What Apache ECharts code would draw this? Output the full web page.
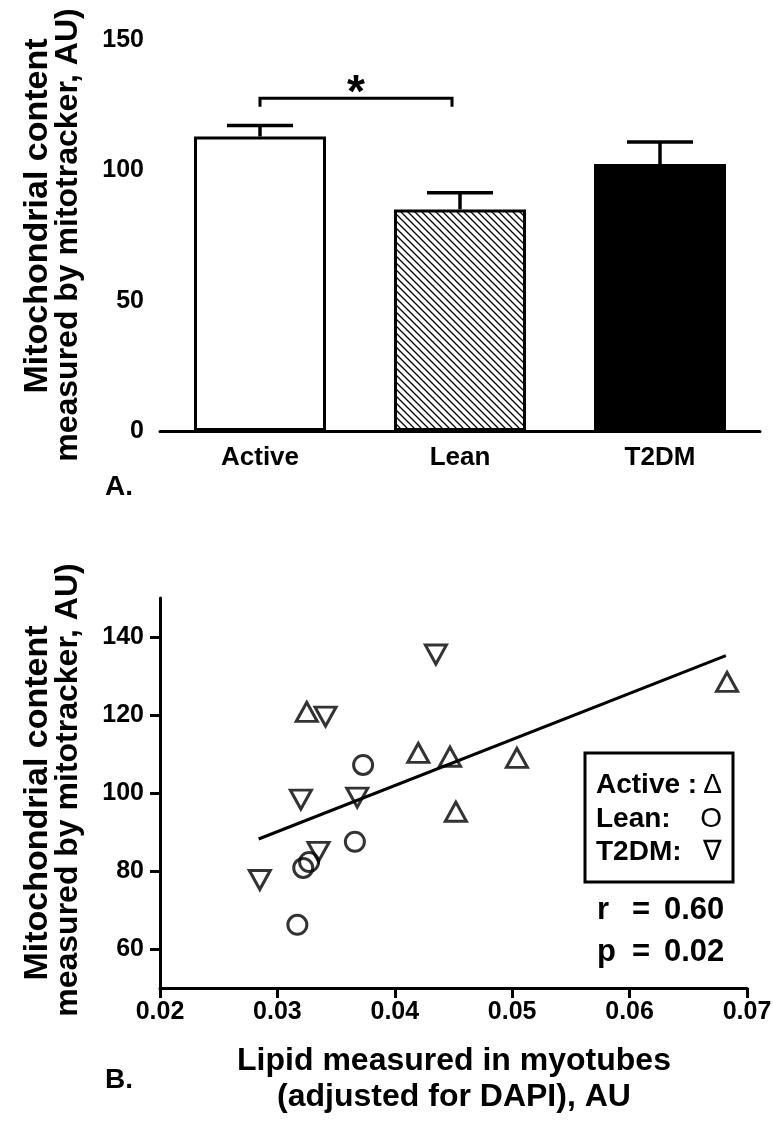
<!DOCTYPE html>
<html>
<head>
<meta charset="utf-8">
<script src="https://cdn.jsdelivr.net/npm/echarts@6/dist/echarts.min.js"></script>
<style>
  html, body { margin: 0; padding: 0; background: #fff; }
  #chart { width: 773px; height: 1121px; }
</style>
</head>
<body>
<div id="chart"></div>
<script>
// panel A: bar chart
const groups = ['Active', 'Lean', 'T2DM']
const means = [113, 85, 102.4]
const sems = [4.2, 6.4, 8.5]
const bracketY = [127.7, 124.4] // significance bracket: top line, foot ends
const starY = 129

// panel B: scatter
const activeX = [0.0325, 0.0420, 0.0447, 0.0504, 0.0452, 0.0683]
const activeY = [120.8, 110.3, 109.3, 109.0, 95.2, 128.5]
const leanX = [0.0373, 0.0366, 0.0327, 0.0322, 0.0317]
const leanY = [107.2, 87.5, 82.3, 80.8, 66.2]
const t2dmX = [0.0435, 0.0341, 0.0320, 0.0368, 0.0335, 0.0285]
const t2dmY = [135.5, 119.6, 98.3, 98.8, 84.9, 77.7]
const fitX = [0.0284, 0.0682]
const fitY = [88.2, 135.2]
const yTicksB = [60, 80, 100, 120, 140]

const FONT = '"Liberation Sans", Arial, sans-serif'

function hatch () {
  let c = document.createElement('canvas')
  c.width = 7
  c.height = 7
  let g = c.getContext('2d')
  g.fillStyle = '#fff'
  g.fillRect(0, 0, 7, 7)
  g.strokeStyle = '#000'
  g.lineWidth = 1.3
  g.beginPath()
  g.moveTo(-1, -1); g.lineTo(8, 8)
  g.moveTo(-1, 6); g.lineTo(1, 8)
  g.moveTo(6, -1); g.lineTo(8, 1)
  g.stroke()
  return c
}

const axisLine = { lineStyle: { color: '#000', width: 3 } }
const axisTick = { length: 10, lineStyle: { color: '#000', width: 3 } }
const labelStyle = { color: '#000', fontFamily: FONT, fontWeight: 'bold', fontSize: 25 }

const barFills = ['#fff', { image: hatch(), repeat: 'repeat' }, '#000']

const pts = (xs, ys) => xs.map((x, i) => [x, ys[i]])
const hollow = { color: 'rgba(0,0,0,0)', borderColor: '#000', borderWidth: 3 }

function vText (text, x, y, size) {
  return {
    type: 'text', x: x, y: y, rotation: Math.PI / 2,
    style: { text: text, fill: '#000', font: 'bold ' + size + 'px ' + FONT, align: 'center', verticalAlign: 'middle' }
  }
}
function hText (text, x, y, size, align, weight) {
  return {
    type: 'text', x: x, y: y,
    style: { text: text, fill: '#000', font: (weight || 'bold') + ' ' + size + 'px ' + FONT, align: align || 'left', verticalAlign: 'middle' }
  }
}

const chart = echarts.init(document.getElementById('chart'), null, { renderer: 'canvas' })
chart.setOption({
  animation: false,
  backgroundColor: '#fff',
  grid: [
    { left: 160, right: 13, top: 40, bottom: 690, outerBoundsMode: 'none' },
    { left: 160, right: 26, top: 598, bottom: 133, outerBoundsMode: 'none' }
  ],
  xAxis: [
    {
      gridIndex: 0, type: 'category', data: groups,
      axisLine: axisLine,
      axisTick: Object.assign({ alignWithLabel: true }, axisTick),
      axisLabel: Object.assign({}, labelStyle, { margin: 14, fontSize: 26 })
    },
    {
      gridIndex: 1, type: 'value', min: 0.02, max: 0.07, interval: 0.01,
      axisLine: axisLine, axisTick: axisTick, splitLine: { show: false },
      axisLabel: Object.assign({ margin: 12, formatter: v => v.toFixed(2) }, labelStyle)
    }
  ],
  yAxis: [
    {
      gridIndex: 0, type: 'value', min: 0, max: 150, interval: 50,
      axisLine: axisLine, axisTick: axisTick, splitLine: { show: false },
      axisLabel: Object.assign({ margin: 16 }, labelStyle)
    },
    {
      gridIndex: 1, type: 'value', min: 50, max: 150,
      axisLine: axisLine,
      axisTick: Object.assign({ customValues: yTicksB }, axisTick),
      splitLine: { show: false },
      axisLabel: Object.assign({ margin: 16, customValues: yTicksB }, labelStyle)
    }
  ],
  series: [
    {
      type: 'bar', xAxisIndex: 0, yAxisIndex: 0, barWidth: '66%',
      data: means.map((v, i) => ({ value: v, itemStyle: { color: barFills[i] } })),
      itemStyle: { borderColor: '#000', borderWidth: 3 },
      emphasis: { disabled: true }
    },
    {
      type: 'custom', xAxisIndex: 0, yAxisIndex: 0, z: 3,
      data: means.map((v, i) => [i, v, sems[i]]),
      renderItem: (params, api) => {
        let base = api.coord([api.value(0), api.value(1)])
        let top = api.coord([api.value(0), api.value(1) + api.value(2)])
        let half = api.size([1, 0])[0] * 0.165
        let st = { stroke: '#000', lineWidth: 3.5 }
        return {
          type: 'group',
          children: [
            { type: 'line', shape: { x1: base[0], y1: base[1], x2: top[0], y2: top[1] }, style: st },
            { type: 'line', shape: { x1: top[0] - half, y1: top[1], x2: top[0] + half, y2: top[1] }, style: st }
          ]
        }
      }
    },
    {
      type: 'custom', xAxisIndex: 0, yAxisIndex: 0, z: 3,
      data: [[0, 1]],
      renderItem: (params, api) => {
        let a = api.coord([api.value(0), bracketY[0]])
        let b = api.coord([api.value(1), bracketY[0]])
        b[0] -= 8
        let foot = api.coord([0, bracketY[1]])[1]
        let star = api.coord([0, starY])[1]
        return {
          type: 'group',
          children: [
            {
              type: 'polyline',
              shape: { points: [[a[0], foot], [a[0], a[1]], [b[0], b[1]], [b[0], foot]] },
              style: { stroke: '#000', lineWidth: 3, fill: null }
            },
            {
              type: 'text',
              style: { text: '*', x: (a[0] + b[0]) / 2, y: star, align: 'center', verticalAlign: 'middle', fill: '#000', font: 'bold 46px ' + FONT }
            }
          ]
        }
      }
    },
    {
      name: 'fit', type: 'line', xAxisIndex: 1, yAxisIndex: 1,
      data: pts(fitX, fitY), showSymbol: false, symbol: 'none',
      lineStyle: { color: '#000', width: 3 }
    },
    {
      name: 'Active', type: 'scatter', xAxisIndex: 1, yAxisIndex: 1,
      symbol: 'triangle', symbolSize: [21, 19],
      itemStyle: hollow, data: pts(activeX, activeY)
    },
    {
      name: 'Lean', type: 'scatter', xAxisIndex: 1, yAxisIndex: 1,
      symbol: 'circle', symbolSize: 19,
      itemStyle: hollow, data: pts(leanX, leanY)
    },
    {
      name: 'T2DM', type: 'scatter', xAxisIndex: 1, yAxisIndex: 1,
      symbol: 'triangle', symbolRotate: 180, symbolSize: [21, 19],
      itemStyle: hollow, data: pts(t2dmX, t2dmY)
    }
  ],
  graphic: [
    // y titles, two lines each
    vText('Mitochondrial content', 38, 216, 34),
    vText('measured by mitotracker, AU)', 68, 235, 32),
    vText('Mitochondrial content', 38, 803, 34),
    vText('measured by mitotracker, AU)', 68, 790, 32),
    // panel letters
    hText('A.', 105, 487, 28),
    hText('B.', 105, 1080, 28),
    // x title of panel B
    hText('Lipid measured in myotubes', 454, 1061, 32, 'center'),
    hText('(adjusted for DAPI), AU', 454, 1097, 32, 'center'),
    // legend box
    {
      type: 'rect', shape: { x: 585, y: 753, width: 148, height: 129 },
      style: { fill: '#fff', stroke: '#000', lineWidth: 3 }
    },
    hText('Active :', 596, 785, 28),
    hText('Lean:', 596, 819, 28),
    hText('T2DM:', 596, 852, 28),
    hText('\u0394', 722, 785, 28, 'right', 'normal'),
    hText('O', 722, 819, 28, 'right', 'normal'),
    hText('\u2207', 722, 852, 28, 'right', 'normal'),
    // stats
    hText('r', 597, 910, 31),
    hText('=', 632, 910, 31),
    hText('0.60', 664, 910, 31),
    hText('p', 597, 952, 31),
    hText('=', 632, 952, 31),
    hText('0.02', 664, 952, 31)
  ]
})
</script>
</body>
</html>
